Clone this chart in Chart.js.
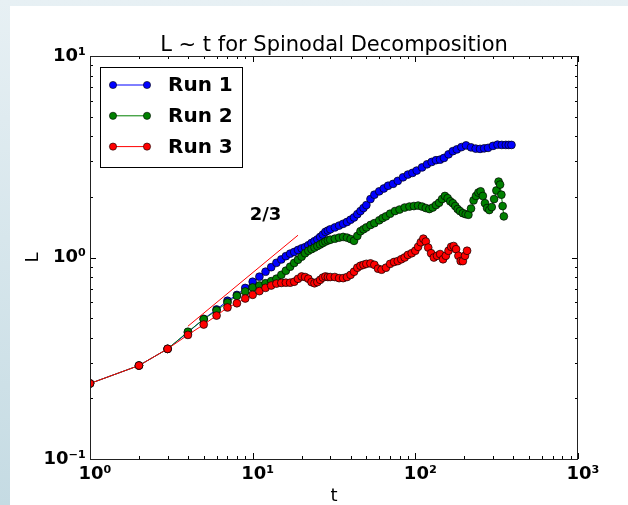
<!DOCTYPE html>
<html><head><meta charset="utf-8">
<script src="https://cdn.jsdelivr.net/npm/chart.js@4/dist/chart.umd.min.js"></script>
<style>
html,body{margin:0;padding:0;width:628px;height:505px;overflow:hidden;background:linear-gradient(to bottom,#e7f0f4,#c5dbe3);}
#panel{position:absolute;left:10px;top:6px;width:618px;height:499px;background:#fff;}
#c{position:absolute;left:0;top:0;}
</style></head><body><div id="panel"></div><canvas id="c" width="628" height="505"></canvas>
<script>
// ---- data ----
const seriesNames = ['Run 1', 'Run 2', 'Run 3'];

const run1T = [1,2,3,4,5,6,7,8,9,10,11,12,13,14,15,16,17,18,19,20,21,22,23,24,25,26,27,28,29,30,
  32,34,36,38,40,42,44,46,48,50,53,56,60,64,68,73,78,84,90,96,
  102,110,118,126,134,142,150,160,170,180,192,205,220,235,250,265,280,300,320,340,360,375,390];
const run1L = [0.237,0.291,0.352,0.425,0.496,0.552,0.61,0.652,0.706,0.758,0.803,0.85,0.895,0.941,0.978,1.015,1.045,1.065,1.09,1.11,
  1.125,1.15,1.18,1.205,1.23,1.265,1.30,1.34,1.36,1.38,
  1.41,1.44,1.47,1.50,1.54,1.58,1.64,1.70,1.76,1.82,
  1.95,2.05,2.13,2.20,2.27,2.32,2.40,2.50,2.58,2.63,
  2.70,2.80,2.90,2.98,3.04,3.06,3.12,3.25,3.37,3.44,
  3.53,3.60,3.52,3.47,3.46,3.48,3.50,3.58,3.63,3.62,3.62,3.62,3.62];

const run2T = [1,2,3,4,5,6,7,8,9,10,11,12,13,14,15,16,17,18,19,20,21,22,23,24,25,26,27,28,29,30,
  32,34,36,38,40,42,44,46,48,50,53,56,60,63,66,70,75,80,86,92,
  98,104,110,116,122,128,134,140,146,152,158,164,170,176,182,188,196,204,212,220,
  228,236,244,252,260,268,276,285,295,305,315,325,332,338,344,350];
const run2L = [0.237,0.291,0.352,0.428,0.494,0.546,0.598,0.645,0.678,0.71,
  0.726,0.745,0.763,0.785,0.82,0.86,0.90,0.94,0.975,1.01,
  1.05,1.08,1.10,1.12,1.14,1.16,1.18,1.20,1.215,1.225,
  1.24,1.255,1.265,1.255,1.235,1.21,1.28,1.35,1.38,1.41,
  1.45,1.48,1.53,1.57,1.60,1.65,1.70,1.73,1.77,1.79,
  1.80,1.81,1.79,1.76,1.74,1.77,1.82,1.87,1.95,2.02,
  1.97,1.90,1.86,1.80,1.74,1.70,1.66,1.64,1.63,1.75,
  1.92,2.02,2.10,2.13,2.02,1.86,1.76,1.72,1.78,1.95,
  2.15,2.38,2.30,2.05,1.80,1.60];

const run3T = [1,2,3,4,5,6,7,8,9,10,11,12,13,14,15,16,17,18,19,20,21,22,23,24,25,26,27,28,29,30,
  32,34,36,38,40,42,44,46,48,50,53,56,59,62,66,70,74,78,82,86,
  90,95,100,104,108,112,116,120,125,130,136,142,148,154,160,166,172,178,184,190,196,202,208];
const run3L = [0.237,0.291,0.352,0.413,0.465,0.515,0.565,0.593,0.626,0.653,
  0.681,0.707,0.726,0.742,0.748,0.75,0.75,0.758,0.784,0.805,
  0.80,0.785,0.755,0.745,0.755,0.775,0.795,0.805,0.80,0.80,
  0.80,0.79,0.79,0.80,0.82,0.85,0.89,0.91,0.92,0.93,
  0.935,0.92,0.88,0.87,0.89,0.93,0.95,0.96,0.98,1.00,
  1.03,1.05,1.08,1.13,1.19,1.24,1.20,1.12,1.05,1.00,
  1.02,1.04,0.98,1.02,1.08,1.13,1.14,1.10,1.02,0.96,
  0.96,1.02,1.08];

const slopeT = [4, 19];
const slopeL = [0.456, 1.29];
const slopeText = '2/3';
const slopeTextT = 12, slopeTextL = 1.62;

const xTickValues = [1, 10, 100, 1000];
const xTickLabels = ['10\u2070', '10\u00b9', '10\u00b2', '10\u00b3'];
const yTickValues = [0.1, 1, 10];
const yTickLabels = ['10\u207b\u00b9', '10\u2070', '10\u00b9'];

const colors = ['#0000ff', '#008000', '#ff0000'];
// ---------------------------------------

const toXY = (T, L) => T.map((t, i) => ({x: t, y: L[i]}));
const runs = [[run1T, run1L], [run2T, run2L], [run3T, run3L]];

const datasets = runs.map((r, i) => ({
  label: seriesNames[i],
  data: toXY(r[0], r[1]),
  borderColor: colors[i],
  backgroundColor: colors[i],
  borderWidth: 1,
  pointRadius: 3.9,
  pointBorderColor: '#000',
  pointBorderWidth: 0.7,
  pointBackgroundColor: colors[i],
  tension: 0,
  clip: 0,
  order: 3 - i
}));
datasets.push({
  label: 'slope',
  data: toXY(slopeT, slopeL),
  borderColor: '#ff0000',
  borderWidth: 1,
  pointRadius: 0,
  tension: 0,
  clip: 0,
  order: 0
});

function minorList(min, max) {
  const out = [];
  for (let e = Math.floor(Math.log10(min)); e <= Math.ceil(Math.log10(max)); e++) {
    const d = Math.pow(10, e);
    for (let m = 1; m <= 9; m++) {
      const v = m * d;
      if (v >= min * 0.9999 && v <= max * 1.0001) out.push([v, m === 1]);
    }
  }
  return out;
}

const framePlugin = {
  id: 'frameTicks',
  afterDatasetsDraw(chart) {
    const ctx = chart.ctx, a = chart.chartArea, xs = chart.scales.x, ys = chart.scales.y;
    ctx.save();
    ctx.strokeStyle = '#000';
    ctx.lineWidth = 1;
    ctx.beginPath();
    minorList(xs.min, xs.max).forEach(([v, major]) => {
      const p = Math.round(xs.getPixelForValue(v)) + 0.5;
      const len = major ? 6 : 3;
      ctx.moveTo(p, a.bottom); ctx.lineTo(p, a.bottom - len);
      ctx.moveTo(p, a.top); ctx.lineTo(p, a.top + len);
    });
    minorList(ys.min, ys.max).forEach(([v, major]) => {
      const p = Math.round(ys.getPixelForValue(v)) + 0.5;
      const len = major ? 6 : 3;
      ctx.moveTo(a.left, p); ctx.lineTo(a.left + len, p);
      ctx.moveTo(a.right, p); ctx.lineTo(a.right - len, p);
    });
    ctx.stroke();
    ctx.strokeStyle = '#222';
    ctx.strokeRect(Math.round(a.left) + 0.5, Math.round(a.top) + 0.5,
      Math.round(a.right - a.left) - 1, Math.round(a.bottom - a.top));
    // slope annotation
    ctx.fillStyle = '#000';
    ctx.font = 'bold 18px "DejaVu Sans"';
    ctx.textAlign = 'center';
    ctx.textBaseline = 'middle';
    ctx.fillText(slopeText, xs.getPixelForValue(slopeTextT), ys.getPixelForValue(slopeTextL));
    ctx.restore();
  },
  afterDraw(chart) {
    const ctx = chart.ctx, a = chart.chartArea;
    const x0 = Math.round(a.left) + 10.5, y0 = Math.round(a.top) + 11.5, w = 142, h = 100;
    ctx.save();
    ctx.fillStyle = '#fff';
    ctx.fillRect(x0, y0, w, h);
    ctx.strokeStyle = '#000';
    ctx.lineWidth = 1;
    ctx.strokeRect(x0, y0, w, h);
    seriesNames.forEach((name, i) => {
      const ds = chart.data.datasets[i];
      const y = y0 + 17.5 + 30.8 * i;
      const xa = x0 + 12.5, xb = x0 + 46.5;
      ctx.strokeStyle = ds.borderColor;
      ctx.lineWidth = 1;
      ctx.beginPath(); ctx.moveTo(xa, y); ctx.lineTo(xb, y); ctx.stroke();
      [xa, xb].forEach(px => {
        ctx.beginPath(); ctx.arc(px, y, 3.6, 0, Math.PI * 2);
        ctx.fillStyle = ds.pointBackgroundColor; ctx.fill();
        ctx.strokeStyle = '#000'; ctx.lineWidth = 0.6; ctx.stroke();
      });
      ctx.fillStyle = '#000';
      ctx.font = 'bold 20px "DejaVu Sans"';
      ctx.textAlign = 'left';
      ctx.textBaseline = 'middle';
      ctx.fillText(name, x0 + 67.5, y + 1);
    });
    ctx.restore();
  }
};

const tickFont = {family: 'DejaVu Sans', size: 18, weight: 'bold'};

new Chart(document.getElementById('c'), {
  type: 'line',
  data: {datasets},
  options: {
    responsive: false,
    animation: false,
    events: [],
    layout: {padding: {left: 0, right: 50, top: 35, bottom: 0}},
    plugins: {
      legend: {display: false},
      tooltip: {enabled: false},
      title: {
        display: true, text: 'L ~ t for Spinodal Decomposition', fullSize: false,
        color: '#000', padding: 0,
        font: {family: 'DejaVu Sans', size: 21, weight: 'normal', lineHeight: 1}
      }
    },
    scales: {
      x: {
        type: 'logarithmic', min: 1, max: 1000,
        grid: {display: false, drawTicks: false},
        border: {display: false},
        afterBuildTicks: s => { s.ticks = xTickValues.map(v => ({value: v, major: true})); },
        afterFit: s => { s.height = 46; },
        ticks: {
          autoSkip: false, maxRotation: 0, padding: 5, color: '#000', font: tickFont,
          labelOffset: 5,
          callback: (v, i) => xTickLabels[i]
        },
        title: {display: true, text: 't', color: '#000', padding: 0,
          font: {family: 'DejaVu Sans', size: 18, lineHeight: 1}}
      },
      y: {
        type: 'logarithmic', min: 0.1, max: 10,
        grid: {display: false, drawTicks: false},
        border: {display: false},
        afterBuildTicks: s => { s.ticks = yTickValues.map(v => ({value: v, major: true})); },
        afterFit: s => { s.width = 90; },
        ticks: {
          autoSkip: false, padding: 4, color: '#000', font: tickFont,
          callback: (v, i) => yTickLabels[i]
        },
        title: {display: true, text: 'L', color: '#000', padding: {top: 24, bottom: 0},
          font: {family: 'DejaVu Sans', size: 18, lineHeight: 1}}
      }
    }
  },
  plugins: [framePlugin]
});
</script>
</body></html>
